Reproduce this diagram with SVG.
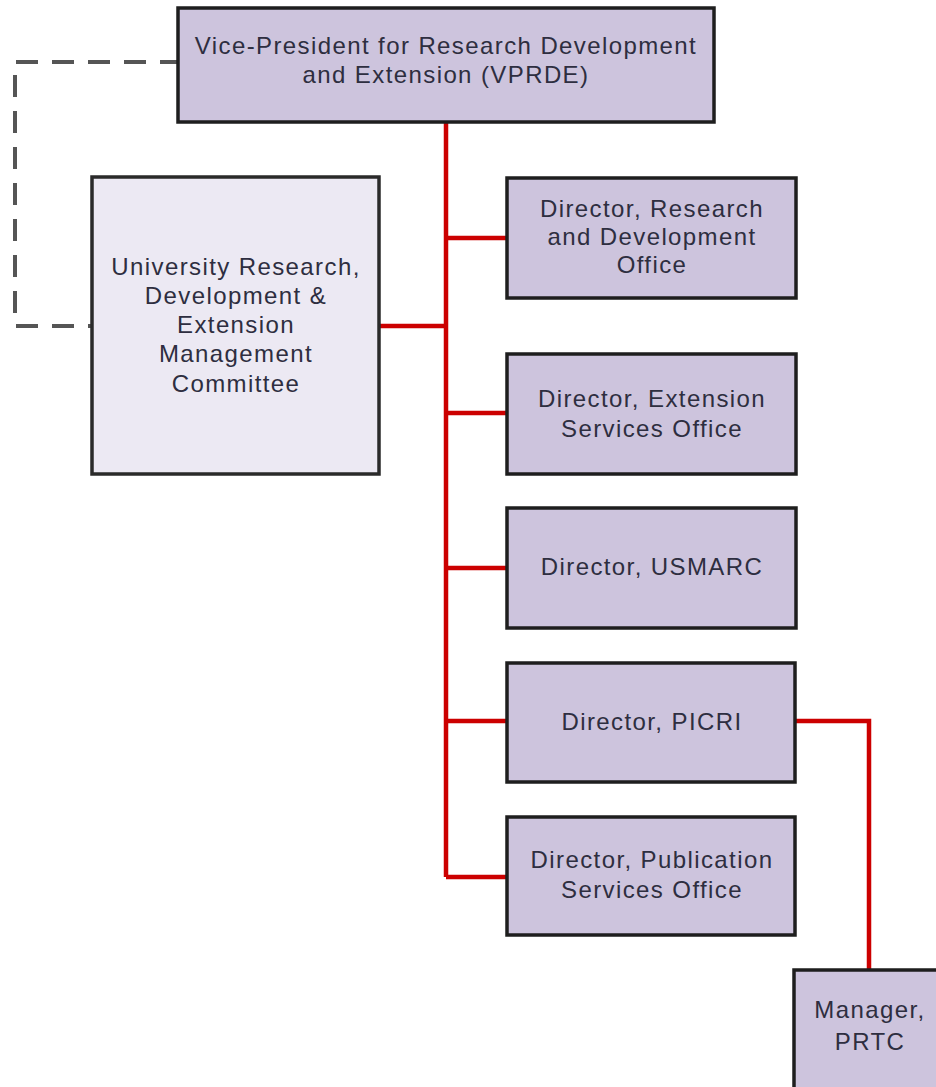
<svg xmlns="http://www.w3.org/2000/svg" width="936" height="1087" viewBox="0 0 936 1087">
<style>
.box{fill:#cdc4dd;stroke:#1e1e1e;stroke-width:3.5}
.lite{fill:#ece9f3;stroke:#2a2a2a;stroke-width:3.5}
.t{font-family:"Liberation Sans",Arial,sans-serif;font-size:24px;fill:#2e2e40;text-anchor:middle;letter-spacing:1.4px}
.red{fill:none;stroke:#cc0000;stroke-width:4.5}
.dash{fill:none;stroke:#555555;stroke-width:4;stroke-dasharray:22 14}
</style>
<rect width="936" height="1087" fill="#ffffff"/>
<g id="connectors">
<path class="dash" d="M178 62 H15 V326 H92" stroke-dashoffset="4"/>
<path class="red" d="M446 122 V877"/>
<path class="red" d="M446 238 H507 M446 413 H507 M446 568 H507 M446 721 H507 M446 877 H507 M379 326 H446"/>
<path class="red" d="M795 721 H869 V970"/>
</g>
<g id="vprde">
<rect class="box" x="178" y="8" width="536" height="114"/>
<text class="t" x="446" y="54">Vice-President for Research Development</text>
<text class="t" x="446" y="83">and Extension (VPRDE)</text>
</g>
<g id="urdemc">
<rect class="lite" x="92" y="177" width="287" height="297"/>
<text class="t" x="236" y="275">University Research,</text>
<text class="t" x="236" y="304">Development &amp;</text>
<text class="t" x="236" y="333">Extension</text>
<text class="t" x="236" y="362">Management</text>
<text class="t" x="236" y="392">Committee</text>
</g>
<g id="dir-rd">
<rect class="box" x="507" y="178" width="289" height="120"/>
<text class="t" x="652" y="217">Director, Research</text>
<text class="t" x="652" y="245">and Development</text>
<text class="t" x="652" y="273">Office</text>
</g>
<g id="dir-ext">
<rect class="box" x="507" y="354" width="289" height="120"/>
<text class="t" x="652" y="407">Director, Extension</text>
<text class="t" x="652" y="437">Services Office</text>
</g>
<g id="dir-usmarc">
<rect class="box" x="507" y="508" width="289" height="120"/>
<text class="t" x="652" y="575">Director, USMARC</text>
</g>
<g id="dir-picri">
<rect class="box" x="507" y="663" width="288" height="119"/>
<text class="t" x="652" y="730">Director, PICRI</text>
</g>
<g id="dir-pub">
<rect class="box" x="507" y="817" width="288" height="118"/>
<text class="t" x="652" y="868">Director, Publication</text>
<text class="t" x="652" y="898">Services Office</text>
</g>
<g id="mgr-prtc">
<rect class="box" x="794" y="970" width="150" height="130"/>
<text class="t" x="870" y="1018">Manager,</text>
<text class="t" x="870" y="1050">PRTC</text>
</g>
</svg>
